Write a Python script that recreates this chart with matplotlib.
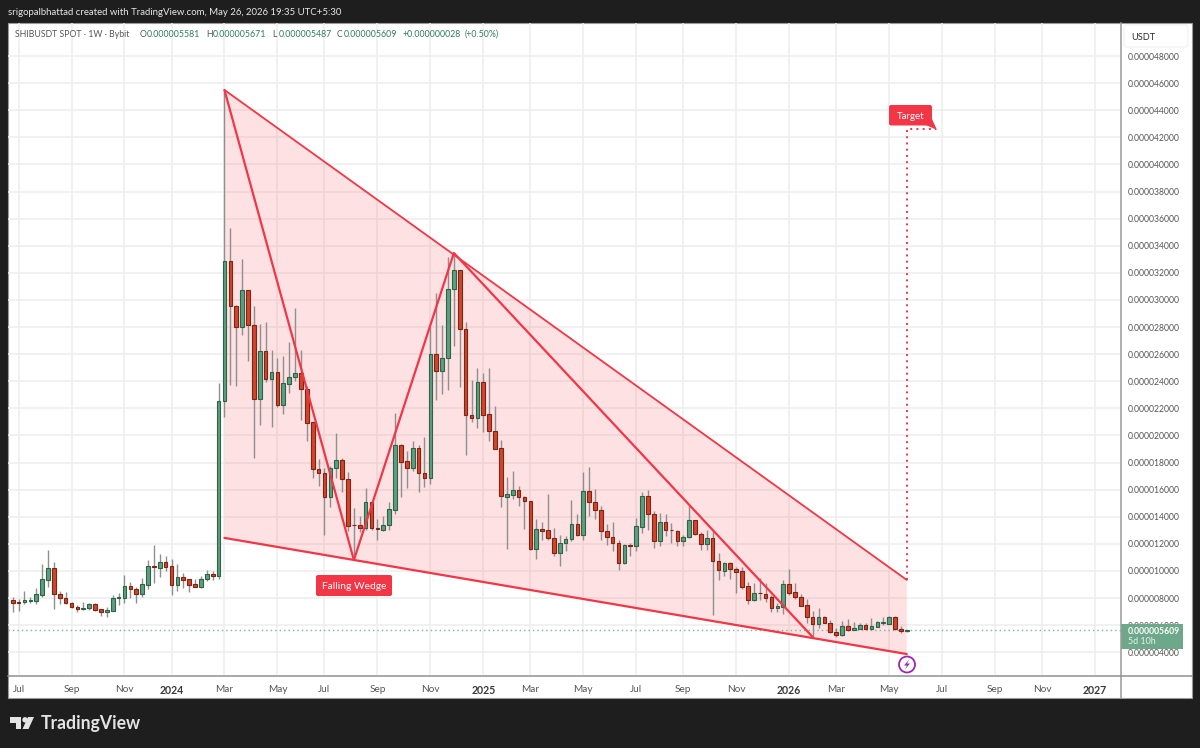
import matplotlib
matplotlib.use("Agg")
import matplotlib.pyplot as plt
from matplotlib.patches import Rectangle, FancyBboxPatch, Polygon, Circle

# Prices in units of 1e-6 USDT, one weekly bar per entry
opens = [7.84,7.72,7.69,7.81,7.81,8.23,9.34,10.23,8.33,8.04,7.67,7.37,7.20,7.25,7.57,7.17,6.95,7.08,8.01,8.04,
         8.87,8.70,8.31,8.97,10.35,10.25,10.64,10.35,8.97,9.54,9.39,9.02,8.85,9.41,9.76,9.66,22.54,32.85,29.53,28.03,
         30.71,28.13,22.71,26.26,24.17,24.66,22.25,23.82,24.29,24.61,23.45,20.97,17.52,17.20,15.43,17.57,18.19,16.81,13.39,13.39,
         13.19,15.09,13.14,13.05,13.37,14.53,19.30,18.09,17.63,19.05,17.21,16.84,26.01,24.78,25.69,30.84,32.19,27.84,21.49,21.32,
         23.95,21.56,20.33,19.05,15.49,15.61,15.95,15.46,15.14,11.60,13.07,13.00,12.44,11.31,12.05,12.34,13.47,12.66,15.91,15.07,
         14.51,12.98,12.49,12.07,10.60,11.90,11.83,13.28,15.57,14.21,12.20,13.62,13.06,12.98,12.20,12.49,13.75,12.76,12.00,12.44,
         10.74,10.00,10.61,10.14,9.97,8.86,7.83,8.40,8.32,8.05,7.27,7.36,9.04,8.45,8.05,7.46,6.60,6.11,6.58,6.18,
         5.52,5.25,5.94,5.67,5.74,5.99,5.74,5.86,6.18,6.11,6.63,5.69,5.581]
closes = [7.62,7.64,7.84,7.86,8.28,9.39,10.23,8.31,7.99,7.64,7.32,7.20,7.30,7.54,7.15,6.98,7.13,8.04,8.11,8.87,
          8.68,8.31,9.02,10.35,10.30,10.64,10.32,8.97,9.54,9.34,8.97,8.82,9.44,9.76,9.64,22.54,32.85,29.55,28.03,30.71,
          28.13,22.71,26.26,24.17,24.66,22.25,23.85,24.29,24.61,23.45,20.94,17.52,17.20,15.43,17.57,18.19,16.81,13.34,13.37,13.19,
          15.09,13.14,13.07,13.39,14.55,19.30,18.07,17.63,19.05,17.21,16.84,26.01,24.78,25.72,30.84,32.19,27.84,21.49,21.32,23.95,
          21.54,20.33,19.03,15.51,15.66,15.95,15.44,15.14,11.60,13.07,12.93,12.42,11.31,12.07,12.37,13.47,12.66,15.91,15.07,14.51,
          12.98,12.49,12.05,10.60,11.90,11.87,13.30,15.57,14.19,12.20,13.62,13.00,13.00,12.20,12.51,13.75,12.71,12.00,12.44,10.72,
          10.05,10.61,10.12,9.95,8.84,7.83,8.40,8.37,8.03,7.29,7.41,9.04,8.40,8.05,7.44,6.60,6.11,6.58,6.18,5.52,
          5.25,5.94,5.67,5.79,6.01,5.74,5.91,6.21,6.20,6.63,5.69,5.57,5.609]
highs = [8.06,7.91,8.53,8.11,8.77,10.55,11.53,10.67,8.50,8.45,7.74,7.49,7.72,7.62,7.62,7.22,7.32,8.21,8.36,9.71,
         9.19,8.80,9.51,10.82,11.95,11.26,11.11,10.91,10.50,9.83,9.39,9.44,9.64,10.08,10.00,23.89,45.50,35.28,29.60,33.00,
         30.75,29.55,28.22,28.40,26.31,25.69,25.89,26.87,29.43,26.31,23.67,21.00,18.24,17.57,17.75,20.16,18.31,17.28,14.67,14.05,
         16.15,15.10,13.83,14.05,15.12,21.69,19.37,18.86,19.57,19.30,19.91,28.03,30.49,28.16,33.15,33.49,32.20,28.35,24.10,24.96,
         24.64,24.96,22.18,19.67,16.96,17.38,16.27,15.54,15.20,13.86,13.64,15.69,13.18,12.69,12.61,15.27,14.24,17.34,17.68,16.06,
         14.78,13.50,13.62,12.32,12.02,12.07,13.92,15.86,16.01,14.41,14.29,14.24,13.55,13.06,12.69,14.83,13.80,12.88,13.06,13.06,
         11.33,10.68,10.68,10.32,10.27,9.16,9.09,9.50,9.09,8.22,7.61,9.33,10.12,9.14,8.27,7.91,7.07,7.24,6.68,6.38,
         5.76,6.33,6.43,6.26,6.13,6.13,6.50,6.30,6.58,6.68,6.68,5.94,5.671]
lows = [7.00,7.08,7.57,7.62,7.57,8.11,8.80,7.20,7.57,7.57,7.25,6.95,7.13,7.13,7.08,6.71,6.63,7.08,7.49,7.62,
        7.99,7.62,8.06,8.68,9.14,9.56,9.98,8.23,8.53,8.77,8.48,8.80,8.77,9.24,9.34,9.44,21.39,23.75,23.67,27.44,
        25.52,18.36,20.80,23.97,20.62,22.12,21.58,23.11,24.02,21.14,19.61,16.88,16.29,12.68,14.74,16.83,15.80,12.97,10.95,12.90,
        13.02,13.00,12.28,12.95,13.03,14.21,15.49,16.10,17.38,15.81,16.22,16.42,22.62,23.06,23.36,26.60,23.55,18.56,20.97,20.58,
        20.26,19.62,19.03,14.75,11.60,15.31,14.82,13.07,11.55,10.86,12.29,12.32,11.09,10.35,11.51,12.20,12.61,12.32,14.04,13.84,
        12.32,11.93,11.46,10.10,10.55,11.14,11.51,12.81,13.06,11.68,11.83,12.56,12.07,11.88,11.88,12.44,12.66,11.58,11.58,6.74,
        9.32,9.65,9.38,8.40,8.67,7.56,7.78,7.86,7.73,6.99,6.99,6.82,8.22,7.95,7.41,6.13,5.05,5.81,6.13,5.45,
        5.15,5.20,5.59,5.64,5.69,5.69,5.69,5.84,6.01,6.08,5.64,5.45,5.487]

# Drawings: (bar, price)
upper_line = [(36, 45.5), (152, 9.34)]
lower_line = [(36, 12.44), (152, 3.87)]
zigzag = [(36, 45.5), (58, 10.81), (75, 33.47), (136, 5.13)]
target_path = [(152, 9.34), (152, 42.62), (157, 42.62)]

month_bars = [1,10,19,27,36,45,53,62,71,80,88,97,106,114,123,132,140,149,158,167,175,184]
month_labels = ["Jul","Sep","Nov","2024","Mar","May","Jul","Sep","Nov","2025","Mar","May","Jul","Sep","Nov",
                "2026","Mar","May","Jul","Sep","Nov","2027"]
year_labels = {"2024","2025","2026","2027"}
price_ticks = list(range(4, 50, 2))
last_price = 5.609

FONT = "Lato"
plt.rcParams["font.family"] = [FONT, "DejaVu Sans"]
GREEN_B, GREEN_E = "#5c9f7e", "#2c6349"
RED_B, RED_E = "#d2452c", "#7e2413"
WICK = "#8f8f8f"
PINK = "#f23645"
W, H = 1200, 748

fig = plt.figure(figsize=(W/100, H/100), dpi=100, facecolor="#1e1e1e")

def px_axes(l, t, r, b, **kw):
    return fig.add_axes([l/W, 1-b/H, (r-l)/W, (b-t)/H], **kw)

# white panel behind the chart
back = fig.add_axes([0, 0, 1, 1], zorder=0)
back.set_xlim(0, W); back.set_ylim(H, 0); back.axis("off")
back.add_patch(Rectangle((8, 23), 1184, 675, fc="white", ec="#9a9a9a", lw=0.8))

ax = px_axes(8, 23, 1121, 675, zorder=1)
ax.set_facecolor("none")
ax.set_xlim(-0.8, 188.42)
ax.set_ylim(2.325, 50.44)
for s in ax.spines.values():
    s.set_visible(False)
ax.set_xticks(month_bars)
ax.set_xticklabels(month_labels, fontsize=7.2, color="#555555")
for lab in ax.get_xticklabels():
    if lab.get_text() in year_labels:
        lab.set_fontweight("bold")
        lab.set_color("#3a3a3a")
        lab.set_fontsize(7.6)
ax.set_yticks(price_ticks)
ax.yaxis.tick_right()
ax.set_yticklabels([f"{p*1e-6:.9f}" for p in price_ticks], fontsize=6.2, color="#555555")
ax.tick_params(axis="both", length=0)
ax.tick_params(axis="x", pad=7)
ax.tick_params(axis="y", pad=5)
ax.grid(True, color="#eeeeee", lw=1.1)
ax.set_axisbelow(True)

# wedge fill and drawings
poly = [upper_line[0], upper_line[1], lower_line[1], lower_line[0]]
ax.add_patch(Polygon(poly, closed=True, fc=PINK, alpha=0.15, ec="none", zorder=1.5))

ax.axhline(last_price, color="#7fb09a", lw=1, ls=(0, (1, 2.2)), zorder=2)

xs = list(range(len(opens)))
for i in xs:
    up = closes[i] >= opens[i]
    ax.vlines(i, lows[i], highs[i], color=WICK, lw=1.0, zorder=3)
    bottom = min(opens[i], closes[i])
    height = max(abs(closes[i] - opens[i]), 0.03)
    ax.bar(i, height, bottom=bottom, width=0.62,
           color=GREEN_B if up else RED_B, edgecolor=GREEN_E if up else RED_E, lw=0.8, zorder=4)

for line, lw in [(upper_line, 1.3), (lower_line, 1.6), (zigzag, 1.6)]:
    ax.plot(*zip(*line), color=PINK, lw=lw, zorder=5, solid_capstyle="round")
ax.plot(*zip(*target_path), color=PINK, lw=1.4, ls=(0, (1, 2.2)), zorder=5)

# overlay: frame, labels, header, logo
top = fig.add_axes([0, 0, 1, 1], zorder=5)
top.set_xlim(0, W); top.set_ylim(H, 0); top.axis("off"); top.patch.set_alpha(0)
top.plot([1121, 1121], [23, 698], color="#9a9a9a", lw=1.1)
top.plot([8, 1192], [675.5, 675.5], color="#8f8f8f", lw=1.1)

def label_box(x0, y0, x1, y1, text, fs):
    top.add_patch(FancyBboxPatch((x0+2, y0+2), x1-x0-4, y1-y0-4,
                  boxstyle="round,pad=2,rounding_size=2", fc=PINK, ec="none"))
    top.text((x0+x1)/2, (y0+y1)/2, text, color="white", fontsize=fs, ha="center", va="center_baseline")

label_box(316, 575, 392, 596, "Falling Wedge", 7.4)
label_box(889, 105, 932, 125.5, "Target", 7.0)
top.add_patch(Polygon([(932, 119), (937, 130), (926, 125)], closed=True, fc=PINK, ec="none"))

# last price tag
top.add_patch(Rectangle((1121, 624), 61.5, 24.7, fc="#6ea88a", ec="none"))
top.text(1128, 631, f"{last_price*1e-6:.9f}", color="white", fontsize=6.2, va="center", fontweight="bold")
top.text(1128, 642, "5d 10h", color="#e6f2ec", fontsize=6.4, va="center")

# currency box
top.add_patch(FancyBboxPatch((1126, 27), 60, 18, boxstyle="round,pad=2,rounding_size=3",
                             fc="white", ec="#f0f0f0", lw=0.8))
top.text(1131, 37, "USDT", color="#2a2a2a", fontsize=6.6, va="center")

# alert icon
top.add_patch(Circle((907, 664.5), 8, fc="white", ec="#9c27b0", lw=1.3))
top.add_patch(Polygon([(909.5, 659), (904, 665.5), (907, 665.5), (904.5, 670), (910, 663.5), (907, 663.5)],
                      closed=True, fc="#9c27b0", ec="none"))

# title bar
top.text(8, 12, "srigopalbhattad created with TradingView.com, May 26, 2026 19:35 UTC+5:30",
         color="#e8e8e8", fontsize=6.95, va="center")

# legend line
G = "#2f7d5b"; D = "#555555"
items = [(15, "SHIBUSDT SPOT · 1W · Bybit", D), (140, "O", D), (147, "0.000005581", G), (206, "H", D), (213, "0.000005671", G),
         (272, "L", D), (279, "0.000005487", G), (337, "C", D), (344, "0.000005609", G),
         (403, "+0.000000028", G), (465, "(+0.50%)", G)]
for x, s, c in items:
    top.text(x, 34, s, color=c, fontsize=6.3, va="center")

# TradingView logo
LOGO = "#e4e4e4"
top.add_patch(Polygon([(10, 717), (21, 717), (21, 729), (15.5, 729), (15.5, 722.5), (10, 722.5)], closed=True, fc=LOGO, ec="none"))
top.add_patch(Circle((25, 719.8), 2.7, fc=LOGO, ec="none"))
top.add_patch(Polygon([(28, 717), (34, 717), (28.5, 729), (22.5, 729)], closed=True, fc=LOGO, ec="none"))
top.text(41, 723, "TradingView", color=LOGO, fontsize=12.7, fontweight="bold", va="center")

fig.savefig("out.png", dpi=100, facecolor=fig.get_facecolor())
